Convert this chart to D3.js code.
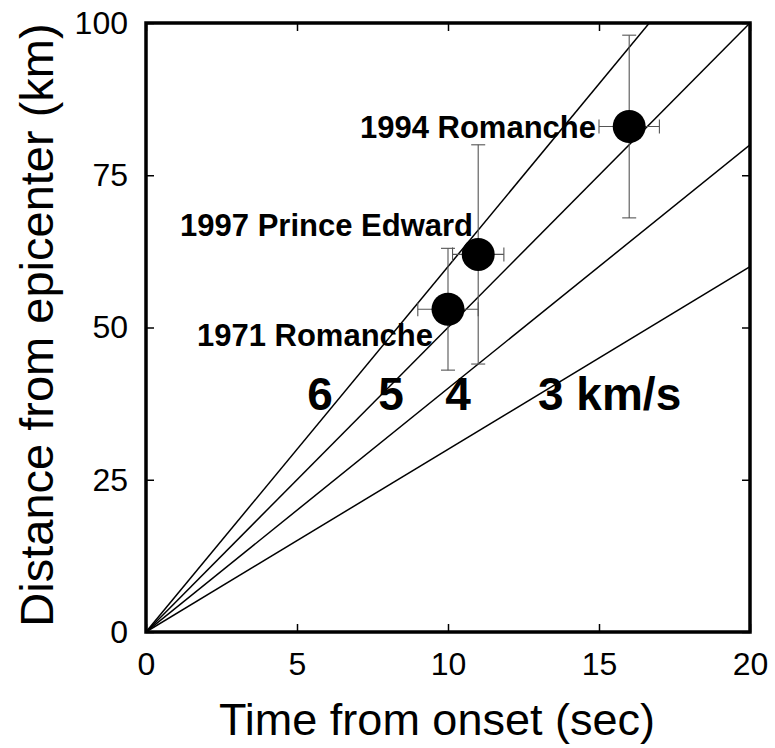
<!DOCTYPE html>
<html><head><meta charset="utf-8">
<script src="https://cdn.jsdelivr.net/npm/d3@7"></script>
<style>body{margin:0;background:#fff;} svg{display:block;}</style>
</head><body>
<svg id="c" width="775" height="748"></svg>
<script>
// Data
const eventNames = ["1971 Romanche", "1997 Prince Edward", "1994 Romanche"];
const eventTime = [10, 11, 16];
const eventTimeErr = [1, 0.85, 1];
const eventDist = [53, 62, 83];
const eventDistErr = [10, 18, 15];
const speeds = [6, 5, 4, 3];
const speedLabels = ["6", "5", "4", "3 km/s"];
const xTicks = [0, 5, 10, 15, 20];
const yTicks = [0, 25, 50, 75, 100];

const svg = d3.select("#c");
const L = 146, R = 750, T = 23, B = 632;
const x = d3.scaleLinear().domain([0, 20]).range([L, R]);
const y = d3.scaleLinear().domain([0, 100]).range([B, T]);
const font = "Helvetica, Arial, 'Liberation Sans', sans-serif";

const defs = svg.append("defs");
defs.append("clipPath").attr("id", "clip").append("rect")
  .attr("x", L).attr("y", T).attr("width", R - L).attr("height", B - T);

// speed lines
const g = svg.append("g").attr("clip-path", "url(#clip)");
g.selectAll("line.v").data(speeds).join("line")
  .attr("x1", x(0)).attr("y1", y(0))
  .attr("x2", v => x(20)).attr("y2", v => y(v * 20))
  .attr("stroke", "#000").attr("stroke-width", 1.5);

// axes with inward ticks
const tl = 8;
svg.append("g").attr("transform", `translate(0,${B})`)
  .call(d3.axisBottom(x).tickValues(xTicks).tickSizeInner(-tl).tickSizeOuter(0).tickPadding(20))
  .call(a => a.select(".domain").remove())
  .call(a => a.selectAll("text").attr("font-size", 32).attr("font-family", font).attr("fill", "#000"));
svg.append("g").attr("transform", `translate(0,${T})`)
  .call(d3.axisTop(x).tickValues(xTicks).tickSizeInner(-tl).tickSizeOuter(0).tickFormat(""))
  .call(a => a.select(".domain").remove());
svg.append("g").attr("transform", `translate(${L},0)`)
  .call(d3.axisLeft(y).tickValues(yTicks).tickSizeInner(-tl).tickSizeOuter(0).tickPadding(18))
  .call(a => a.select(".domain").remove())
  .call(a => a.selectAll("text").attr("font-size", 32).attr("font-family", font).attr("fill", "#000"));
svg.append("g").attr("transform", `translate(${R},0)`)
  .call(d3.axisRight(y).tickValues(yTicks).tickSizeInner(-tl).tickSizeOuter(0).tickFormat(""))
  .call(a => a.select(".domain").remove());
svg.selectAll(".tick line").attr("stroke", "#000").attr("stroke-width", 1.5);

// frame
svg.append("rect").attr("x", L).attr("y", T).attr("width", R - L).attr("height", B - T)
  .attr("fill", "none").attr("stroke", "#000").attr("stroke-width", 3.5);

// error bars
const idx = d3.range(eventNames.length);
const eb = svg.append("g").attr("stroke", "#555").attr("stroke-width", 1.1).attr("fill", "none");
const cap = 7;
idx.forEach(i => {
  const cx = x(eventTime[i]), cy = y(eventDist[i]);
  const y0 = y(eventDist[i] - eventDistErr[i]), y1 = y(eventDist[i] + eventDistErr[i]);
  const x0 = x(eventTime[i] - eventTimeErr[i]), x1 = x(eventTime[i] + eventTimeErr[i]);
  eb.append("line").attr("x1", cx).attr("x2", cx).attr("y1", y0).attr("y2", y1);
  eb.append("line").attr("x1", cx - cap).attr("x2", cx + cap).attr("y1", y0).attr("y2", y0);
  eb.append("line").attr("x1", cx - cap).attr("x2", cx + cap).attr("y1", y1).attr("y2", y1);
  eb.append("line").attr("x1", x0).attr("x2", x1).attr("y1", cy).attr("y2", cy);
  eb.append("line").attr("x1", x0).attr("x2", x0).attr("y1", cy - cap).attr("y2", cy + cap);
  eb.append("line").attr("x1", x1).attr("x2", x1).attr("y1", cy - cap).attr("y2", cy + cap);
});

// points
svg.selectAll("circle.pt").data(idx).join("circle")
  .attr("cx", i => x(eventTime[i])).attr("cy", i => y(eventDist[i]))
  .attr("r", 16.5).attr("fill", "#000");

// event labels
const labelPos = [[433, 346], [473, 236], [596, 138]];
svg.selectAll("text.ev").data(idx).join("text")
  .attr("x", i => labelPos[i][0]).attr("y", i => labelPos[i][1])
  .attr("text-anchor", "end").attr("font-family", font).attr("font-weight", "bold")
  .attr("font-size", 31).text(i => eventNames[i]);

// speed labels
const speedX = [320, 391, 458, 538];
svg.selectAll("text.sp").data(speeds).join("text")
  .attr("x", (d, i) => speedX[i]).attr("y", 410)
  .attr("text-anchor", (d, i) => i < 3 ? "middle" : "start")
  .attr("font-family", font).attr("font-weight", "bold").attr("font-size", 46)
  .text((d, i) => speedLabels[i]);

// axis titles
svg.append("text").attr("x", 437).attr("y", 735).attr("text-anchor", "middle")
  .attr("font-family", font).attr("font-size", 45).text("Time from onset (sec)");
svg.append("text").attr("transform", `translate(53,325) rotate(-90)`)
  .attr("text-anchor", "middle").attr("font-family", font).attr("font-size", 47)
  .text("Distance from epicenter (km)");
</script>
</body></html>
